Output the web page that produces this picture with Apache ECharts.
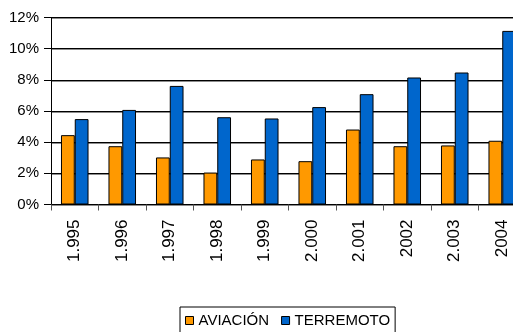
<!DOCTYPE html>
<html>
<head>
<meta charset="utf-8">
<script src="https://cdn.jsdelivr.net/npm/echarts@6/dist/echarts.min.js"></script>
<style>
  html, body { margin: 0; padding: 0; background: #fff; overflow: hidden; }
  #chart { width: 513px; height: 332px; }
</style>
</head>
<body>
<div id="chart"></div>
<script>
// Years along the category axis
const years = ['1.995', '1.996', '1.997', '1.998', '1.999', '2.000', '2.001', '2002', '2.003', '2004'];
// Share per year, in percent
const aviacion = [4.45, 3.74, 3.02, 2.05, 2.89, 2.78, 4.81, 3.74, 3.79, 4.09];
const terremoto = [5.48, 6.07, 7.61, 5.60, 5.52, 6.25, 7.08, 8.15, 8.47, 11.14];
const seriesNames = ['AVIACIÓN', 'TERREMOTO'];
const seriesColors = ['#FF9900', '#0066CC'];

const font = 'Liberation Sans, Arial, sans-serif';
const chart = echarts.init(document.getElementById('chart'), null, { renderer: 'canvas' });

chart.setOption({
  animation: false,
  backgroundColor: '#fff',
  textStyle: { fontFamily: font, color: '#000' },
  // the plot runs a little past the right edge of the canvas
  grid: { left: 51, width: 475, top: 17.5, height: 187, containLabel: false, outerBoundsMode: 'none' },
  legend: {
    data: seriesNames,
    left: 180,
    top: 307,
    orient: 'horizontal',
    icon: 'rect',
    itemWidth: 8,
    itemHeight: 8,
    itemGap: 12,
    padding: [6, 5, 12, 5],
    borderColor: '#000',
    borderWidth: 1,
    itemStyle: { borderColor: '#000', borderWidth: 1 },
    textStyle: { fontFamily: font, fontSize: 15, color: '#000' }
  },
  xAxis: {
    type: 'category',
    data: years,
    axisLine: { lineStyle: { color: '#000', width: 1 } },
    axisTick: { show: true, inside: false, length: 6, alignWithLabel: false, lineStyle: { color: '#555' } },
    axisLabel: { rotate: 90, margin: 15, fontSize: 17, color: '#000', fontFamily: font, interval: 0 },
    splitLine: { show: false }
  },
  yAxis: {
    type: 'value',
    min: 0,
    max: 12,
    interval: 2,
    axisLine: { show: true, lineStyle: { color: '#000', width: 1 } },
    axisTick: { show: true, inside: false, length: 7, lineStyle: { color: '#000' } },
    axisLabel: { formatter: '{value}%', margin: 12, fontSize: 15, color: '#000', fontFamily: font },
    splitLine: {
      show: true,
      lineStyle: { color: '#000', width: 1, shadowColor: 'rgba(0,0,0,0.45)', shadowOffsetY: 1, shadowBlur: 0 }
    }
  },
  series: [
    {
      name: seriesNames[0],
      type: 'bar',
      data: aviacion,
      barWidth: '29%',
      barGap: '0%',
      itemStyle: { color: seriesColors[0], borderColor: '#000', borderWidth: 1 }
    },
    {
      name: seriesNames[1],
      type: 'bar',
      data: terremoto,
      barWidth: '29%',
      barGap: '0%',
      itemStyle: { color: seriesColors[1], borderColor: '#000', borderWidth: 1 }
    }
  ]
});
</script>
</body>
</html>
